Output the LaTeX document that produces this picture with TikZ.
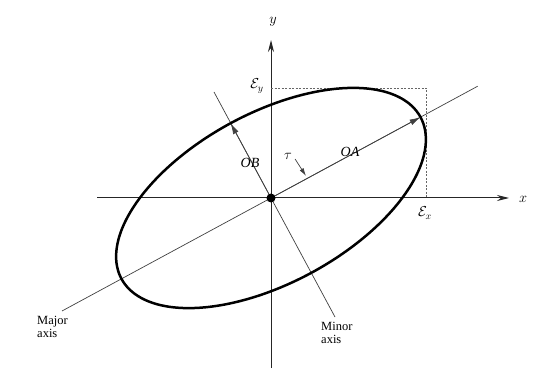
\documentclass[tikz,border=0pt]{standalone}
\usepackage{fontspec}
\setmainfont{Liberation Serif}
\usetikzlibrary{arrows.meta}
\begin{document}
\begin{tikzpicture}[x=1pt,y=-1pt,
  axisline/.style={line width=1pt,black!85},
  thinline/.style={line width=0.7pt,black!75},
  boxline/.style={line width=0.6pt,black!60,dash pattern=on 2pt off 1.5pt},
  ell/.style={line width=2.5pt,black},
  lab/.style={font=\fontsize{14}{15}\selectfont,inner sep=0pt},
  biglab/.style={font=\fontsize{12.5}{14}\selectfont,align=left,inner sep=0pt}]
\useasboundingbox (0,0) rectangle (538,382);
% key points
\coordinate (C) at (271,198);
\coordinate (A) at (420.6,117.1);
\coordinate (B) at (230.6,123.2);
\coordinate (Mj1) at (62,311);
\coordinate (Mj2) at (477.7,86.2);
\coordinate (Mn1) at (214,92);
\coordinate (Mn2) at (335,317);
\coordinate (Xl) at (97,198);
\coordinate (Xr) at (509,198);
\coordinate (Yb) at (271,368);
\coordinate (Yt) at (271,40);
\coordinate (Gy) at (271,88);
\coordinate (Gc) at (426,88);
\coordinate (Gx) at (426,198);
\coordinate (Tt) at (306,176);
% axes
\draw[axisline,-{Stealth[length=12pt,width=6pt]}] (Xl) -- (Xr);
\draw[axisline,-{Stealth[length=12pt,width=6pt]}] (Yb) -- (Yt);
% bounding dashed lines
\draw[boxline] (Gy) -- (Gc) -- (Gx);
% major & minor axes
\draw[thinline] (Mj1) -- (Mj2);
\draw[thinline] (Mn1) -- (Mn2);
% ellipse
\draw[ell] plot[domain=0:360,samples=150,smooth cycle]
  ({271+170*cos(\x)*cos(28.4)+85*sin(\x)*sin(28.4)},
   {198-170*cos(\x)*sin(28.4)+85*sin(\x)*cos(28.4)});
% OA, OB arrows
\draw[thinline,-{Latex[length=11pt,width=6pt]}] (C) -- (A);
\draw[thinline,-{Latex[length=11pt,width=6pt]}] (C) -- (B);
% centre dot
\fill (C) circle (4.5);
% labels
\node[lab] (ylab) at (273,22) {$y$};
\node[lab] (xlab) at (523,199) {$x$};
\node[lab] (gy) at (257,86) {$\mathcal{E}_y$};
\node[lab] (gx) at (425,213) {$\mathcal{E}_x$};
\node[lab] (oa) at (350,152) {\textit{OA}};
\node[lab] (ob) at (250,163) {\textit{OB}};
\node[lab] (tau) at (288,156) {$\tau$};
\draw[thinline,-{Latex[length=8pt,width=4.5pt]}] (tau.east) ++(3,3) -- (Tt);
\node[biglab,anchor=north west] (major) at (37,316) {Major\\[-1pt]axis};
\node[biglab,anchor=north west] (minor) at (321,322) {Minor\\[-1pt]axis};
\end{tikzpicture}
\end{document}
